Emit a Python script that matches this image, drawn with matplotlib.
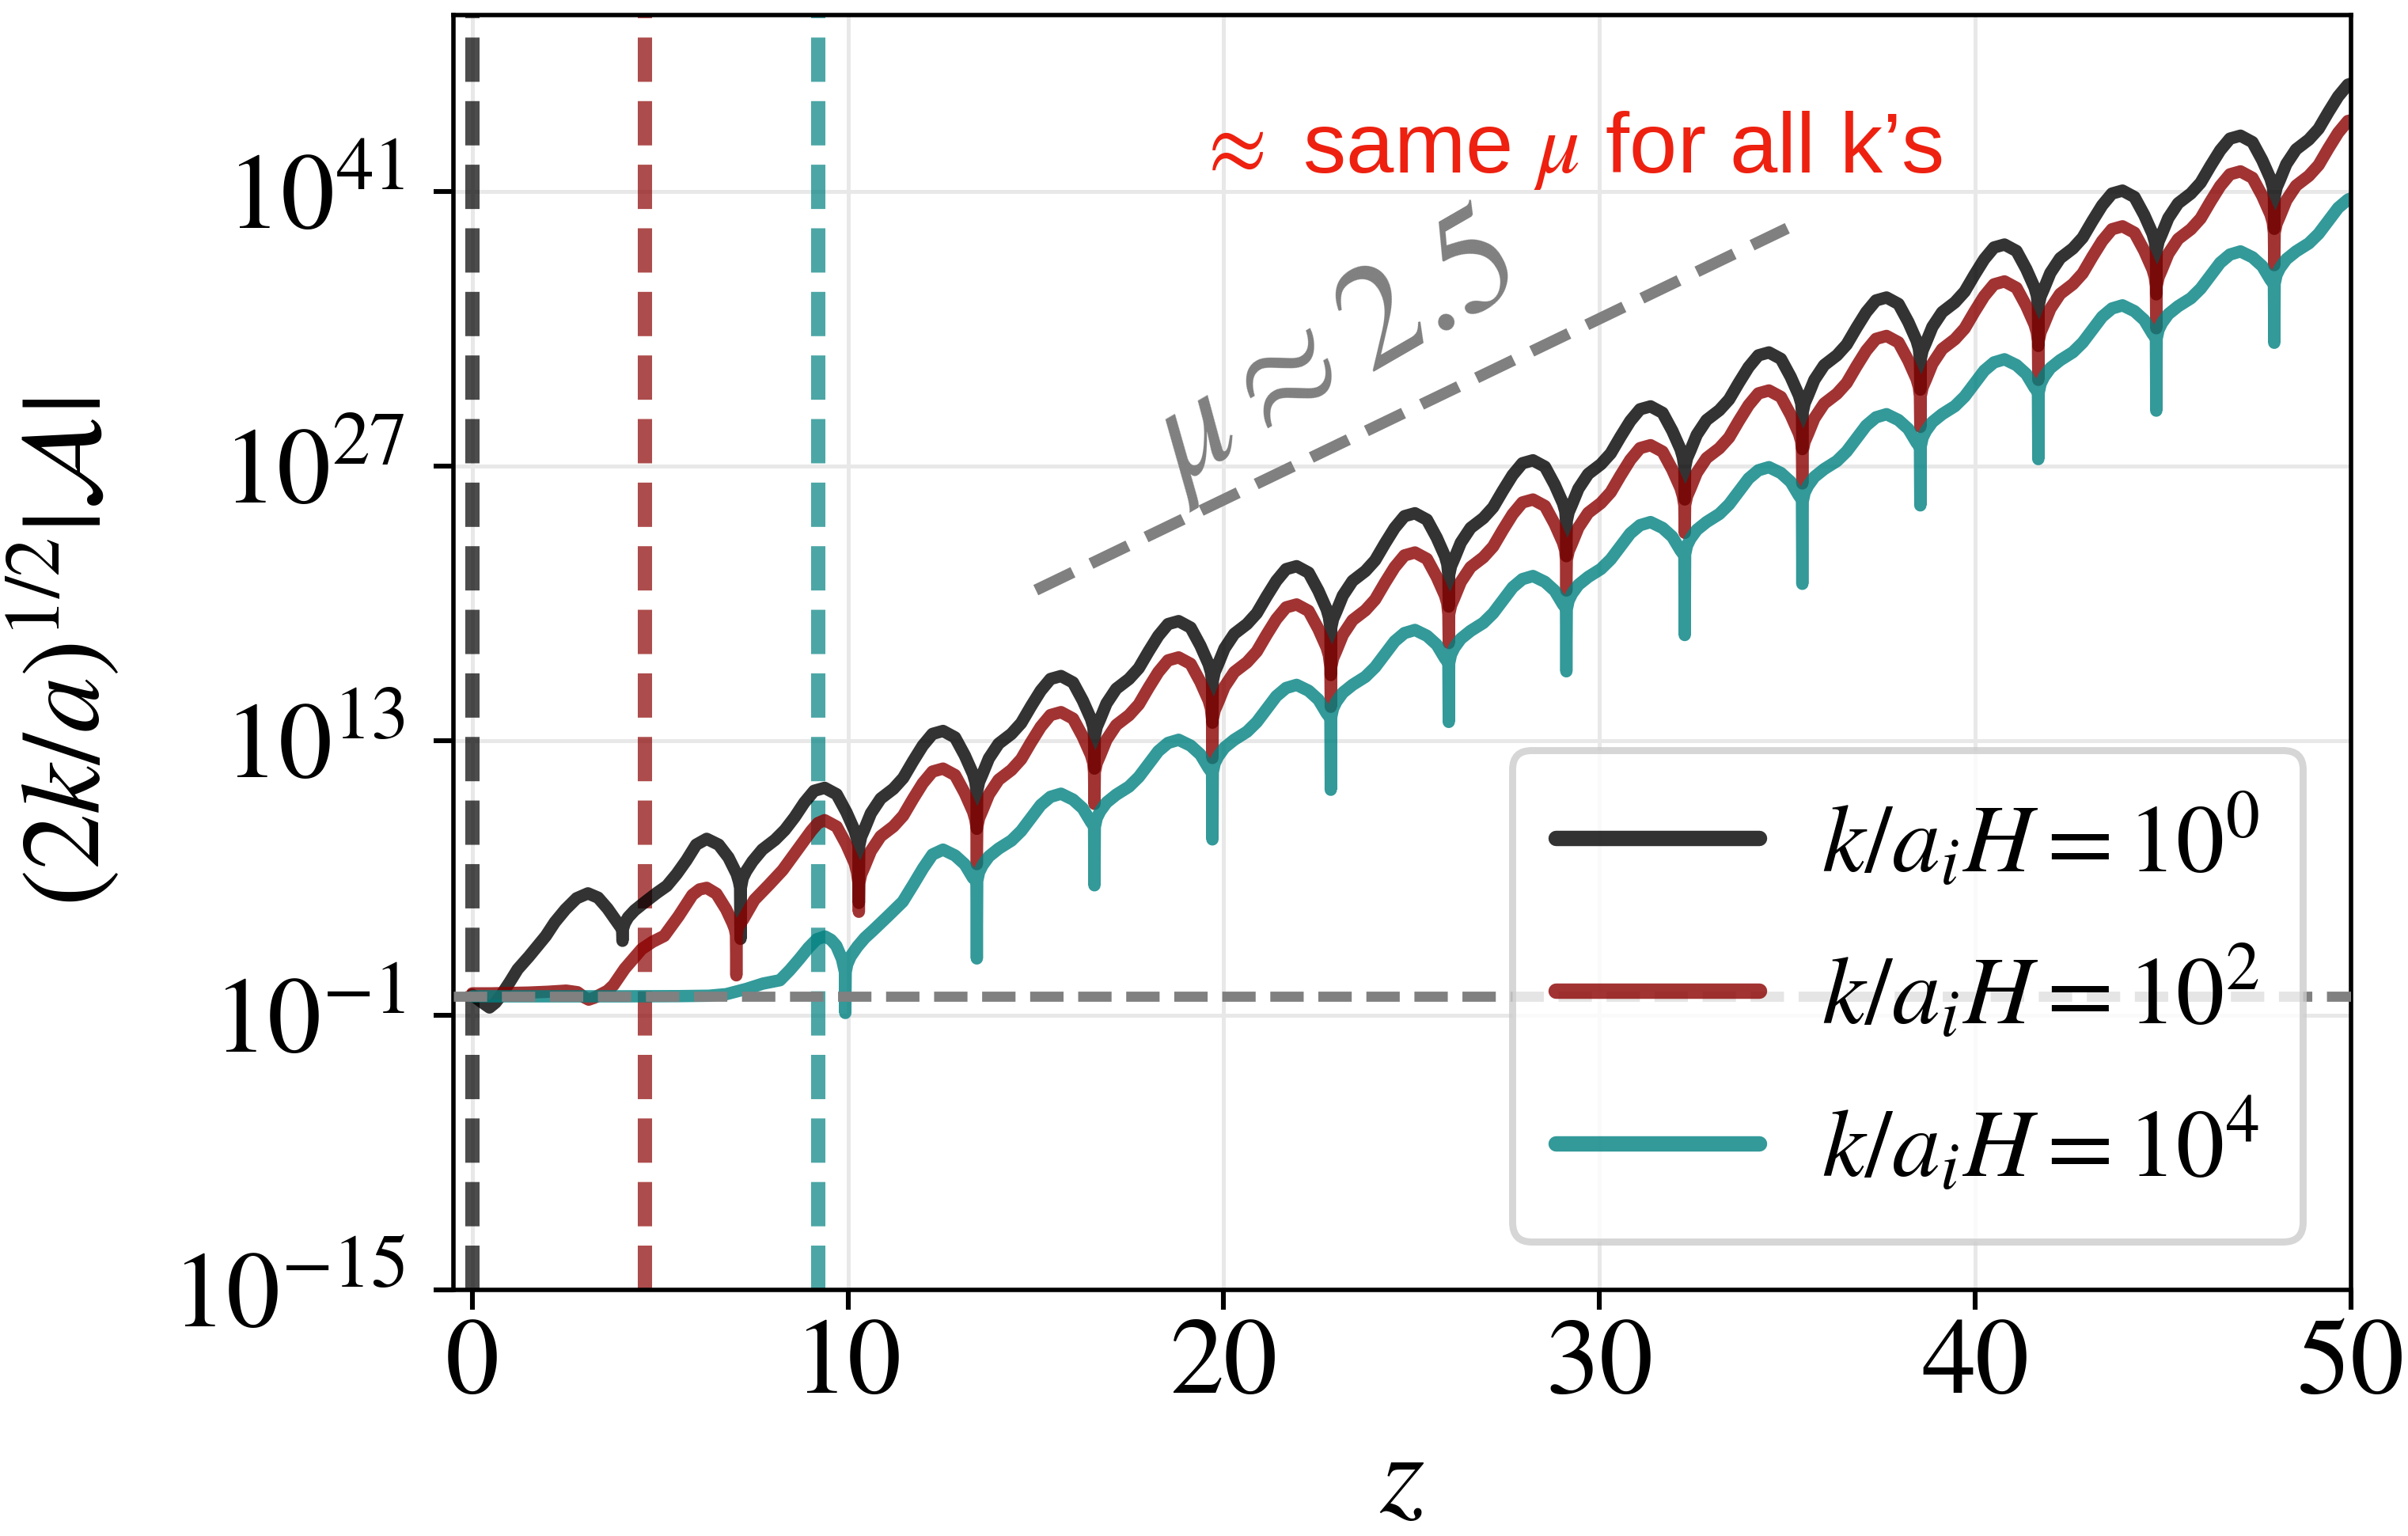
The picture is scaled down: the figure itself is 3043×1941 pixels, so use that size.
import numpy as np
import matplotlib
matplotlib.use("Agg")
import matplotlib.pyplot as plt
from matplotlib.ticker import NullLocator

# ---------------- data (z, log10 of (2k/a)^{1/2}|A|) ----------------
black_pts = [
    (0.00, 0.05), (0.20, -0.25), (0.46, -0.60), (0.62, -0.35), (0.76, 0.00), (1.00, 0.70), (1.21, 1.35),
    (1.51, 2.00), (1.96, 3.05), (2.20, 3.75), (2.48, 4.40), (2.78, 4.97), (3.08, 5.22), (3.35, 5.00),
    (3.60, 4.45), (3.80, 3.90), (3.93, 3.55), (3.99, 3.40), (4.00, 2.80), (4.01, 3.40),
    (4.06, 3.70), (4.15, 4.00), (4.32, 4.35), (4.58, 4.75), (4.92, 5.25), (5.18, 5.60), (5.44, 6.20),
    (5.70, 6.90), (5.96, 7.70), (6.24, 8.00), (6.56, 7.70), (6.82, 7.05), (7.04, 6.20), (7.10, 5.80),
    (7.13, 5.50), (7.14, 2.90), (7.15, 5.50),
    (7.20, 6.00), (7.29, 6.35), (7.46, 6.85), (7.72, 7.45), (8.06, 7.95), (8.32, 8.45), (8.58, 9.10),
    (8.84, 9.85), (9.10, 10.45), (9.38, 10.60), (9.70, 10.27), (9.96, 9.35), (10.18, 8.40), (10.24, 8.00),
    (10.28, 7.65), (10.29, 4.73), (10.30, 7.65),
    (10.35, 8.10), (10.44, 8.50), (10.61, 9.30), (10.87, 10.05), (11.21, 10.55), (11.47, 11.10), (11.73, 11.95),
    (11.99, 12.75), (12.25, 13.35), (12.53, 13.50), (12.85, 13.17), (13.11, 12.25), (13.33, 11.30), (13.39, 10.90),
    (13.42, 10.45), (13.43, 8.51), (13.44, 10.45),
    (13.49, 10.90), (13.58, 11.30), (13.75, 12.10), (14.01, 12.85), (14.35, 13.35), (14.61, 13.90), (14.87, 14.75),
    (15.13, 15.55), (15.39, 16.15), (15.67, 16.30), (15.99, 15.97), (16.25, 15.05), (16.47, 14.10), (16.53, 13.70),
    (16.55, 13.25), (16.56, 11.58), (16.57, 13.25),
    (16.62, 13.70), (16.71, 14.10), (16.88, 14.90), (17.14, 15.65), (17.48, 16.15), (17.74, 16.70), (18.00, 17.55),
    (18.26, 18.35), (18.52, 18.95), (18.80, 19.10), (19.12, 18.77), (19.38, 17.85), (19.60, 16.90), (19.66, 16.50),
    (19.69, 16.05), (19.70, 13.92), (19.71, 16.05),
    (19.76, 16.50), (19.85, 16.90), (20.02, 17.70), (20.28, 18.45), (20.62, 18.95), (20.88, 19.50), (21.14, 20.35),
    (21.40, 21.15), (21.66, 21.75), (21.94, 21.90), (22.26, 21.57), (22.52, 20.65), (22.74, 19.70), (22.80, 19.30),
    (22.84, 18.75), (22.85, 16.35), (22.86, 18.75),
    (22.91, 19.20), (23.00, 19.60), (23.17, 20.40), (23.43, 21.15), (23.77, 21.65), (24.03, 22.20), (24.29, 23.05),
    (24.55, 23.85), (24.81, 24.45), (25.09, 24.60), (25.41, 24.27), (25.67, 23.35), (25.89, 22.40), (25.95, 22.00),
    (25.98, 21.45), (25.99, 19.84), (26.00, 21.45),
    (26.05, 21.90), (26.14, 22.30), (26.31, 23.10), (26.57, 23.85), (26.91, 24.35), (27.17, 24.90), (27.43, 25.75),
    (27.69, 26.55), (27.95, 27.15), (28.23, 27.30), (28.55, 26.97), (28.81, 26.05), (29.03, 25.10), (29.09, 24.70),
    (29.11, 24.20), (29.12, 22.41), (29.13, 24.20),
    (29.18, 24.65), (29.27, 25.05), (29.44, 25.85), (29.70, 26.60), (30.04, 27.10), (30.30, 27.65), (30.56, 28.50),
    (30.82, 29.30), (31.08, 29.90), (31.36, 30.05), (31.68, 29.72), (31.94, 28.80), (32.16, 27.85), (32.22, 27.45),
    (32.26, 26.95), (32.27, 25.30), (32.28, 26.95),
    (32.33, 27.40), (32.42, 27.80), (32.59, 28.60), (32.85, 29.35), (33.19, 29.85), (33.45, 30.40), (33.71, 31.25),
    (33.97, 32.05), (34.23, 32.65), (34.51, 32.80), (34.83, 32.47), (35.09, 31.55), (35.31, 30.60), (35.37, 30.20),
    (35.39, 29.75), (35.40, 27.87), (35.41, 29.75),
    (35.46, 30.20), (35.55, 30.60), (35.72, 31.40), (35.98, 32.15), (36.32, 32.65), (36.58, 33.20), (36.84, 34.05),
    (37.10, 34.85), (37.36, 35.45), (37.64, 35.60), (37.96, 35.27), (38.22, 34.35), (38.44, 33.40), (38.50, 33.00),
    (38.53, 32.45), (38.54, 30.90), (38.55, 32.45),
    (38.60, 32.90), (38.69, 33.30), (38.86, 34.10), (39.12, 34.85), (39.46, 35.35), (39.72, 35.90), (39.98, 36.75),
    (40.24, 37.55), (40.50, 38.15), (40.78, 38.30), (41.10, 37.97), (41.36, 37.05), (41.58, 36.10), (41.64, 35.70),
    (41.67, 35.20), (41.68, 33.13), (41.69, 35.20),
    (41.74, 35.65), (41.83, 36.05), (42.00, 36.85), (42.26, 37.60), (42.60, 38.10), (42.86, 38.65), (43.12, 39.50),
    (43.38, 40.30), (43.64, 40.90), (43.92, 41.05), (44.24, 40.72), (44.50, 39.80), (44.72, 38.85), (44.78, 38.45),
    (44.81, 38.00), (44.82, 35.76), (44.83, 38.00),
    (44.88, 38.45), (44.97, 38.85), (45.14, 39.65), (45.40, 40.40), (45.74, 40.90), (46.00, 41.45), (46.26, 42.30),
    (46.52, 43.10), (46.78, 43.70), (47.06, 43.85), (47.38, 43.52), (47.64, 42.60), (47.86, 41.65), (47.92, 41.25),
    (47.95, 40.75), (47.96, 39.10), (47.97, 40.75),
    (48.02, 41.20), (48.11, 41.60), (48.28, 42.40), (48.54, 43.15), (48.88, 43.65), (49.14, 44.20), (49.40, 45.05),
    (49.66, 45.85), (49.92, 46.45), (50.00, 46.50),
]

red_pts = [
    (0.00, 0.12), (0.50, 0.12), (1.00, 0.14), (1.50, 0.16), (2.00, 0.20), (2.50, 0.26), (2.80, 0.18),
    (3.00, -0.10), (3.10, -0.20), (3.25, -0.10), (3.45, 0.10), (3.60, 0.25), (3.76, 0.54), (4.06, 1.38),
    (4.51, 2.38), (4.80, 2.75), (5.11, 3.05), (5.49, 4.05), (5.86, 5.14), (6.05, 5.42), (6.24, 5.50),
    (6.50, 5.20), (6.76, 4.40), (6.93, 3.70), (6.99, 3.40), (7.02, 3.10), (7.03, 1.04), (7.04, 3.10),
    (7.07, 3.50), (7.21, 3.89), (7.51, 4.89), (7.89, 5.64), (8.26, 6.40), (8.64, 7.40), (9.02, 8.40),
    (9.20, 8.80), (9.38, 8.95), (9.70, 8.62), (9.96, 7.70), (10.18, 6.75), (10.24, 6.30), (10.28, 5.73),
    (10.29, 4.28), (10.30, 5.73),
    (10.35, 6.18), (10.44, 6.58), (10.61, 7.38), (10.87, 8.13), (11.21, 8.63), (11.47, 9.18), (11.73, 10.03),
    (11.99, 10.83), (12.25, 11.43), (12.53, 11.58), (12.85, 11.25), (13.11, 10.33), (13.33, 9.38), (13.39, 8.98),
    (13.42, 8.61), (13.43, 6.71), (13.44, 8.61),
    (13.49, 9.06), (13.58, 9.46), (13.75, 10.26), (14.01, 11.01), (14.35, 11.51), (14.61, 12.06), (14.87, 12.91),
    (15.13, 13.71), (15.39, 14.31), (15.67, 14.46), (15.99, 14.13), (16.25, 13.21), (16.47, 12.26), (16.53, 11.86),
    (16.55, 11.40), (16.56, 9.78), (16.57, 11.40),
    (16.62, 11.85), (16.71, 12.25), (16.88, 13.05), (17.14, 13.80), (17.48, 14.30), (17.74, 14.85), (18.00, 15.70),
    (18.26, 16.50), (18.52, 17.10), (18.80, 17.25), (19.12, 16.92), (19.38, 16.00), (19.60, 15.05), (19.66, 14.65),
    (19.69, 14.10), (19.70, 12.12), (19.71, 14.10),
    (19.76, 14.55), (19.85, 14.95), (20.02, 15.75), (20.28, 16.50), (20.62, 17.00), (20.88, 17.55), (21.14, 18.40),
    (21.40, 19.20), (21.66, 19.80), (21.94, 19.95), (22.26, 19.62), (22.52, 18.70), (22.74, 17.75), (22.80, 17.35),
    (22.84, 16.75), (22.85, 14.73), (22.86, 16.75),
    (22.91, 17.20), (23.00, 17.60), (23.17, 18.40), (23.43, 19.15), (23.77, 19.65), (24.03, 20.20), (24.29, 21.05),
    (24.55, 21.85), (24.81, 22.45), (25.09, 22.60), (25.41, 22.27), (25.67, 21.35), (25.89, 20.40), (25.95, 20.00),
    (25.98, 19.45), (25.99, 17.98), (26.00, 19.45),
    (26.05, 19.90), (26.14, 20.30), (26.31, 21.10), (26.57, 21.85), (26.91, 22.35), (27.17, 22.90), (27.43, 23.75),
    (27.69, 24.55), (27.95, 25.15), (28.23, 25.30), (28.55, 24.97), (28.81, 24.05), (29.03, 23.10), (29.09, 22.70),
    (29.11, 22.22), (29.12, 20.66), (29.13, 22.22),
    (29.18, 22.67), (29.27, 23.07), (29.44, 23.87), (29.70, 24.62), (30.04, 25.12), (30.30, 25.67), (30.56, 26.52),
    (30.82, 27.32), (31.08, 27.92), (31.36, 28.07), (31.68, 27.74), (31.94, 26.82), (32.16, 25.87), (32.22, 25.47),
    (32.26, 25.01), (32.27, 23.60), (32.28, 25.01),
    (32.33, 25.46), (32.42, 25.86), (32.59, 26.66), (32.85, 27.41), (33.19, 27.91), (33.45, 28.46), (33.71, 29.31),
    (33.97, 30.11), (34.23, 30.71), (34.51, 30.86), (34.83, 30.53), (35.09, 29.61), (35.31, 28.66), (35.37, 28.26),
    (35.39, 27.79), (35.40, 26.12), (35.41, 27.79),
    (35.46, 28.24), (35.55, 28.64), (35.72, 29.44), (35.98, 30.19), (36.32, 30.69), (36.58, 31.24), (36.84, 32.09),
    (37.10, 32.89), (37.36, 33.49), (37.64, 33.64), (37.96, 33.31), (38.22, 32.39), (38.44, 31.44), (38.50, 31.04),
    (38.53, 30.57), (38.54, 29.00), (38.55, 30.57),
    (38.60, 31.02), (38.69, 31.42), (38.86, 32.22), (39.12, 32.97), (39.46, 33.47), (39.72, 34.02), (39.98, 34.87),
    (40.24, 35.67), (40.50, 36.27), (40.78, 36.42), (41.10, 36.09), (41.36, 35.17), (41.58, 34.22), (41.64, 33.82),
    (41.67, 33.38), (41.68, 31.40), (41.69, 33.38),
    (41.74, 33.83), (41.83, 34.23), (42.00, 35.03), (42.26, 35.78), (42.60, 36.28), (42.86, 36.83), (43.12, 37.68),
    (43.38, 38.48), (43.64, 39.08), (43.92, 39.23), (44.24, 38.90), (44.50, 37.98), (44.72, 37.03), (44.78, 36.63),
    (44.81, 36.18), (44.82, 34.03), (44.83, 36.18),
    (44.88, 36.63), (44.97, 37.03), (45.14, 37.83), (45.40, 38.58), (45.74, 39.08), (46.00, 39.63), (46.26, 40.48),
    (46.52, 41.28), (46.78, 41.88), (47.06, 42.03), (47.38, 41.70), (47.64, 40.78), (47.86, 39.83), (47.92, 39.43),
    (47.95, 38.90), (47.96, 37.25), (47.97, 38.90),
    (48.02, 39.35), (48.11, 39.75), (48.28, 40.55), (48.54, 41.30), (48.88, 41.80), (49.14, 42.35), (49.40, 43.20),
    (49.66, 44.00), (49.92, 44.60), (50.00, 44.63),
]

teal_pts = [
    (0.00, -0.03), (2.00, -0.03), (4.00, -0.03), (5.50, -0.02), (6.30, 0.00), (6.76, 0.08), (7.30, 0.35),
    (7.74, 0.62), (8.19, 0.79), (8.45, 1.30), (8.71, 1.88), (8.95, 2.45), (9.17, 2.88), (9.39, 3.02),
    (9.55, 2.85), (9.69, 2.55), (9.84, 1.88), (9.92, 1.20), (9.93, -0.88), (9.94, 1.20),
    (9.98, 1.60), (10.07, 2.00), (10.25, 2.50), (10.45, 2.95), (10.65, 3.30), (11.06, 4.05), (11.46, 4.80),
    (11.75, 5.70), (12.00, 6.50), (12.25, 7.20), (12.53, 7.45), (12.85, 7.15), (13.11, 6.70), (13.33, 6.00),
    (13.39, 5.90), (13.42, 5.85), (13.43, 1.90), (13.44, 5.85),
    (13.49, 6.30), (13.58, 6.65), (13.75, 7.10), (14.01, 7.50), (14.35, 7.91), (14.61, 8.40), (14.87, 9.06),
    (15.13, 9.72), (15.39, 10.14), (15.67, 10.30), (15.99, 10.00), (16.25, 9.55), (16.47, 8.85), (16.53, 8.70),
    (16.55, 8.60), (16.56, 5.63), (16.57, 8.60),
    (16.62, 9.05), (16.71, 9.40), (16.88, 9.85), (17.14, 10.25), (17.48, 10.66), (17.74, 11.15), (18.00, 11.81),
    (18.26, 12.47), (18.52, 12.89), (18.80, 13.05), (19.12, 12.75), (19.38, 12.30), (19.60, 11.60), (19.66, 11.45),
    (19.69, 11.40), (19.70, 7.97), (19.71, 11.40),
    (19.76, 11.85), (19.85, 12.20), (20.02, 12.65), (20.28, 13.05), (20.62, 13.46), (20.88, 13.95), (21.14, 14.61),
    (21.40, 15.27), (21.66, 15.69), (21.94, 15.85), (22.26, 15.55), (22.52, 15.10), (22.74, 14.40), (22.80, 14.25),
    (22.84, 14.20), (22.85, 10.50), (22.86, 14.20),
    (22.91, 14.65), (23.00, 15.00), (23.17, 15.45), (23.43, 15.85), (23.77, 16.26), (24.03, 16.75), (24.29, 17.41),
    (24.55, 18.07), (24.81, 18.49), (25.09, 18.65), (25.41, 18.35), (25.67, 17.90), (25.89, 17.20), (25.95, 17.05),
    (25.98, 16.95), (25.99, 13.96), (26.00, 16.95),
    (26.05, 17.40), (26.14, 17.75), (26.31, 18.20), (26.57, 18.60), (26.91, 19.01), (27.17, 19.50), (27.43, 20.16),
    (27.69, 20.82), (27.95, 21.24), (28.23, 21.40), (28.55, 21.10), (28.81, 20.65), (29.03, 19.95), (29.09, 19.80),
    (29.11, 19.70), (29.12, 16.54), (29.13, 19.70),
    (29.18, 20.15), (29.27, 20.50), (29.44, 20.95), (29.70, 21.35), (30.04, 21.76), (30.30, 22.25), (30.56, 22.91),
    (30.82, 23.57), (31.08, 23.99), (31.36, 24.15), (31.68, 23.85), (31.94, 23.40), (32.16, 22.70), (32.22, 22.55),
    (32.26, 22.50), (32.27, 18.39), (32.28, 22.50),
    (32.33, 22.95), (32.42, 23.30), (32.59, 23.75), (32.85, 24.15), (33.19, 24.56), (33.45, 25.05), (33.71, 25.71),
    (33.97, 26.37), (34.23, 26.79), (34.51, 26.95), (34.83, 26.65), (35.09, 26.20), (35.31, 25.50), (35.37, 25.35),
    (35.39, 25.20), (35.40, 21.00), (35.41, 25.20),
    (35.46, 25.65), (35.55, 26.00), (35.72, 26.45), (35.98, 26.85), (36.32, 27.26), (36.58, 27.75), (36.84, 28.41),
    (37.10, 29.07), (37.36, 29.49), (37.64, 29.65), (37.96, 29.35), (38.22, 28.90), (38.44, 28.20), (38.50, 28.05),
    (38.53, 28.00), (38.54, 25.00), (38.55, 28.00),
    (38.60, 28.45), (38.69, 28.80), (38.86, 29.25), (39.12, 29.65), (39.46, 30.06), (39.72, 30.55), (39.98, 31.21),
    (40.24, 31.87), (40.50, 32.29), (40.78, 32.45), (41.10, 32.15), (41.36, 31.70), (41.58, 31.00), (41.64, 30.85),
    (41.67, 30.75), (41.68, 27.36), (41.69, 30.75),
    (41.74, 31.20), (41.83, 31.55), (42.00, 32.00), (42.26, 32.40), (42.60, 32.81), (42.86, 33.30), (43.12, 33.96),
    (43.38, 34.62), (43.64, 35.04), (43.92, 35.20), (44.24, 34.90), (44.50, 34.45), (44.72, 33.75), (44.78, 33.60),
    (44.81, 33.50), (44.82, 29.83), (44.83, 33.50),
    (44.88, 33.95), (44.97, 34.30), (45.14, 34.75), (45.40, 35.15), (45.74, 35.56), (46.00, 36.05), (46.26, 36.71),
    (46.52, 37.37), (46.78, 37.79), (47.06, 37.95), (47.38, 37.65), (47.64, 37.20), (47.86, 36.50), (47.92, 36.35),
    (47.95, 36.30), (47.96, 33.29), (47.97, 36.30),
    (48.02, 36.75), (48.11, 37.10), (48.28, 37.55), (48.54, 37.95), (48.88, 38.36), (49.14, 38.85), (49.40, 39.51),
    (49.66, 40.17), (49.92, 40.59), (50.00, 40.65),
]

series_labels = [r'$k/a_iH = 10^0$', r'$k/a_iH = 10^2$', r'$k/a_iH = 10^4$']
series_colors = ['black', 'darkred', 'teal']
z_start = [0.0, 4.6, 9.2]          # vertical dashed markers
initial_level = 0.9                # horizontal dashed reference
slope_z = [15.0, 35.0]             # mu ~ 2.5 guide line
slope_log = [20.68, 39.13]
x_ticks = [0, 10, 20, 30, 40, 50]
y_ticks = [1e-15, 1e-1, 1e13, 1e27, 1e41]

# ---------------- style ----------------
plt.rcParams['font.family'] = ['STIXGeneral', 'DejaVu Serif']
plt.rcParams['mathtext.fontset'] = 'stix'

fig = plt.figure(figsize=(15.215, 9.705), dpi=200)
ax = fig.add_axes([0.1883, 0.1602, 0.788, 0.830])
ax.set_yscale('log')

for pts, col, lab in zip([black_pts, red_pts, teal_pts], series_colors, series_labels):
    z, lg = np.array(pts).T
    ax.plot(z, 10.0 ** lg, color=col, alpha=0.8, lw=5.6, label=lab,
            solid_capstyle='round', solid_joinstyle='round', zorder=2)

for zs, col in zip(z_start, series_colors):
    ax.axvline(zs, color=col, alpha=0.7, lw=6.5, ls=(0, (3.1, 1.35)), zorder=1.8)

ax.axhline(initial_level, color='gray', lw=4.6, ls=(0, (3.3, 1.45)), zorder=3)
ax.plot(slope_z, [10.0 ** v for v in slope_log], color='gray', lw=5.2, ls=(0, (3.6, 1.75)), zorder=3)

ax.text(22.85, 10 ** 32.6, r'$\mu \approx 2.5$', fontsize=67, color='gray', rotation=30,
        ha='center', va='center', rotation_mode='anchor')
ax.text(29.2, 10 ** 43.1, r'$\approx$ same $\mu$ for all k’s', fontsize=39, color='#ee2010',
        ha='center', va='center', family=['Liberation Sans', 'DejaVu Sans'])

ax.set_xlim(-0.5, 50)
ax.set_ylim(1e-15, 1e50)
ax.set_xticks(x_ticks)
ax.set_yticks(y_ticks)
ax.yaxis.set_minor_locator(NullLocator())
ax.tick_params(axis='both', which='major', labelsize=49, length=9, width=2.2, direction='out')
ax.tick_params(axis='x', pad=4)
ax.tick_params(axis='y', pad=13)
ax.grid(True, color='#e8e8e8', lw=1.8)
ax.set_axisbelow(True)
for sp in ax.spines.values():
    sp.set_linewidth(2.0)

ax.set_xlabel(r'$z$', fontsize=52, labelpad=8)
ax.set_ylabel(r'$(2k/a)^{1/2}|\mathcal{A}|$', fontsize=51, labelpad=22)

leg = ax.legend(loc='lower right', fontsize=44, handlelength=2.1, handletextpad=0.65,
                labelspacing=0.55, borderpad=0.45, borderaxespad=0.5, fancybox=True,
                framealpha=0.8, edgecolor='0.8')
leg.get_frame().set_linewidth(3.2)
for l in leg.get_lines():
    l.set_linewidth(7)

fig.savefig('out.png', dpi=200)
